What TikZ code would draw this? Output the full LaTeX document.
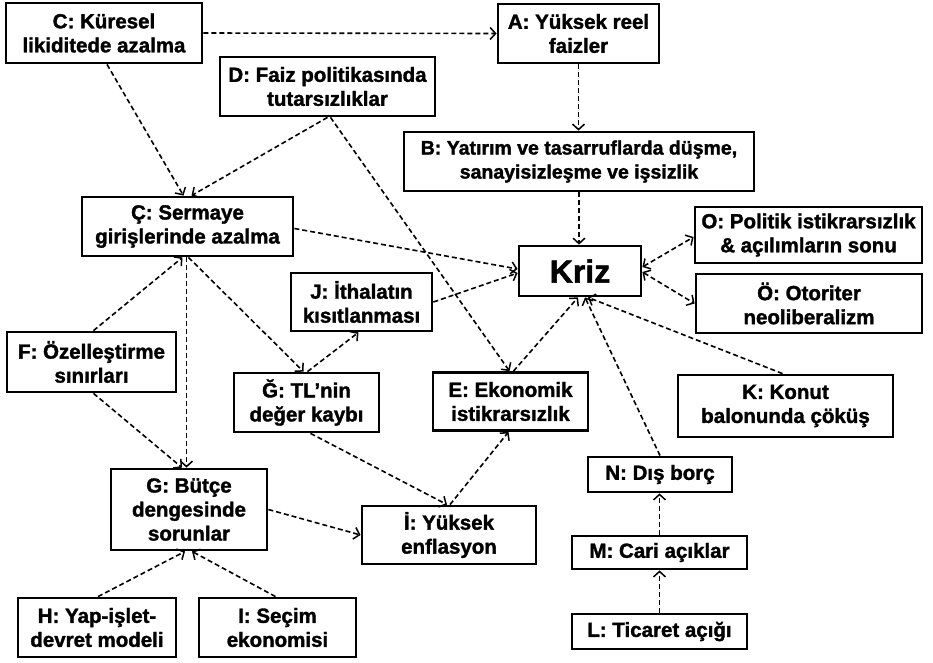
\documentclass[tikz,border=0pt]{standalone}
\usepackage{fontspec}
\setmainfont{Liberation Sans}[BoldFeatures={FakeBold=1.6}]
\usetikzlibrary{arrows.meta,calc}
\begin{document}
\begin{tikzpicture}[x=1pt,y=-1pt,
  box/.style={draw, line width=2.8pt, fill=white, align=center, inner sep=0pt,
    font=\bfseries\fontsize{20.5}{24}\selectfont},
  link/.style={line width=1.6pt, dash pattern=on 5pt off 3pt,
    -{Straight Barb[length=5.5pt,width=12pt,line width=1.5pt]}},
  dlink/.style={line width=1.6pt, dash pattern=on 5pt off 3pt,
    {Straight Barb[length=5.5pt,width=12pt,line width=1.5pt]}-{Straight Barb[length=5.5pt,width=12pt,line width=1.5pt]}}]
\useasboundingbox[fill=white] (0,0) rectangle (933,662);

\node[box, minimum width=196pt, minimum height=60pt] (C) at (104,33) {C: Küresel\\likiditede azalma};
\node[box, minimum width=161pt, minimum height=59pt] (A) at (578.5,33.5) {A: Yüksek reel\\faizler};
\node[box, minimum width=215pt, minimum height=59pt] (D) at (327.5,86.5) {D: Faiz politikasında\\tutarsızlıklar};
\node[box, minimum width=350pt, minimum height=59pt, font=\bfseries\fontsize{19.5}{24}\selectfont] (B) at (579,161.5) {B: Yatırım ve tasarruflarda düşme,\\sanayisizleşme ve işsizlik};
\node[box, minimum width=211pt, minimum height=59pt] (Cc) at (187.5,226.5) {Ç: Sermaye\\girişlerinde azalma};
\node[box, minimum width=122pt, minimum height=50pt, font=\bfseries\fontsize{32}{36}\selectfont] (Kriz) at (580,271) {Kriz};
\node[box, minimum width=227pt, minimum height=56pt] (O) at (808.5,235) {O: Politik istikrarsızlık\\\& açılımların sonu};
\node[box, minimum width=226pt, minimum height=59pt] (Oo) at (809,303.5) {Ö: Otoriter\\neoliberalizm};
\node[box, minimum width=141pt, minimum height=58pt] (J) at (361.5,302) {J: İthalatın\\kısıtlanması};
\node[box, minimum width=169pt, minimum height=60pt] (F) at (91.5,362) {F: Özelleştirme\\sınırları};
\node[box, minimum width=145pt, minimum height=59pt] (Gg) at (306.5,402.5) {Ğ: TL’nin\\değer kaybı};
\node[box, minimum width=155pt, minimum height=58pt] (E) at (510.5,401.5) {E: Ekonomik\\istikrarsızlık};
\node[box, minimum width=215pt, minimum height=62pt] (K) at (785.5,406) {K: Konut\\balonunda çöküş};
\node[box, minimum width=144pt, minimum height=35pt] (N) at (660,474.5) {N: Dış borç};
\node[box, minimum width=156pt, minimum height=81pt] (G) at (189,509.5) {G: Bütçe\\dengesinde\\sorunlar};
\node[box, minimum width=174pt, minimum height=58pt] (Ii) at (449,535) {İ: Yüksek\\enflasyon};
\node[box, minimum width=175pt, minimum height=33pt] (M) at (659.5,552.5) {M: Cari açıklar};
\node[box, minimum width=175pt, minimum height=35pt] (L) at (659.5,631.5) {L: Ticaret açığı};
\node[box, minimum width=158pt, minimum height=59pt] (H) at (97,627.5) {H: Yap-işlet-\\devret modeli};
\node[box, minimum width=157pt, minimum height=59pt] (I) at (277.5,627.5) {I: Seçim\\ekonomisi};

\draw[link] (C.east) -- (A.west);
\draw[link] ([xshift=3pt]C.south) -- ([xshift=-4pt]Cc.north);
\draw[link] (D.south) -- ([xshift=4pt]Cc.north);
\draw[link] ([xshift=3pt]D.south) -- ([xshift=-1pt]E.north);
\draw[link] (A.south) -- (A.south |- B.north);
\draw[link] (B.south) -- (B.south |- Kriz.north);
\draw[link] ([yshift=-2pt]Cc.east) -- ([yshift=2pt]Kriz.west);
\draw[link] (J.east) -- ([yshift=-2pt]Kriz.west);
\draw[dlink] ([yshift=4pt]Kriz.east) -- ([yshift=-2pt]O.west);
\draw[dlink] ([yshift=-1pt]Kriz.east) -- (Oo.west);
\draw[link] ([xshift=-3pt]K.north) -- ([xshift=8pt]Kriz.south);
\draw[link] ([xshift=3pt]E.north) -- ([xshift=-2pt]Kriz.south);
\draw[link] (N.north) -- ([xshift=5pt]Kriz.south);
\draw[link] (M.north) -- (M.north |- N.south);
\draw[link] (L.north) -- (L.north |- M.south);
\draw[link] ([xshift=2pt]F.north) -- ([xshift=-5pt]Cc.south);
\draw[link] ([xshift=-1pt]Cc.south) -- ([xshift=-1pt]Cc.south |- G.north);
\draw[link] ([xshift=1pt]Cc.south) -- ([xshift=-3pt]Gg.north);
\draw[link] ([xshift=2pt]F.south) -- ([xshift=-7pt]G.north);
\draw[link] ([xshift=1pt]Gg.north) -- ([xshift=-3pt]J.south);
\draw[link] ([xshift=4pt]Gg.south) -- ([xshift=-2pt]Ii.north);
\draw[link] ([xshift=1pt]Ii.north) -- ([xshift=-2pt]E.south);
\draw[link] (G.east) -- (Ii.west);
\draw[link] ([xshift=1pt]H.north) -- ([xshift=-4pt]G.south);
\draw[link] ([xshift=-2pt]I.north) -- ([xshift=3pt]G.south);
\end{tikzpicture}
\end{document}
